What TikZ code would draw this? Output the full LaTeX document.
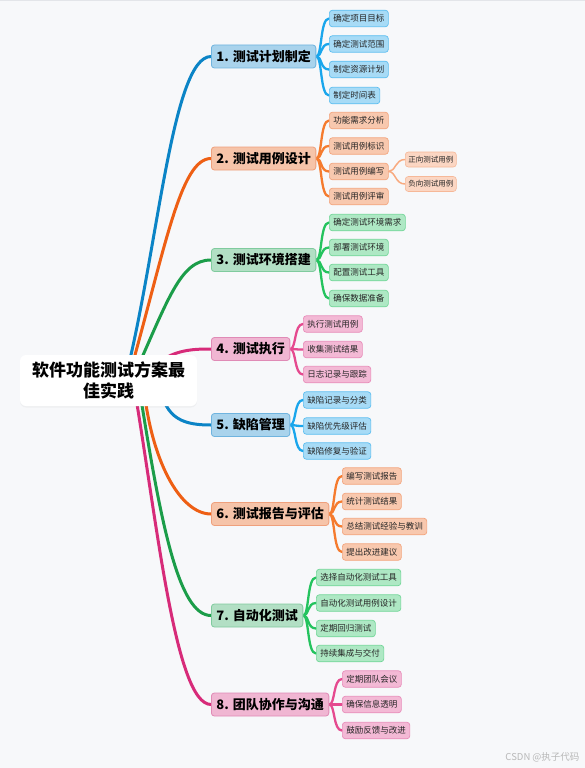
\documentclass[tikz,border=0pt]{standalone}
\usepackage{fontspec}
\setmainfont{Noto Sans CJK SC}
\usepackage{xcolor}
\usetikzlibrary{backgrounds,shadows}
\definecolor{canvas}{HTML}{F7F8FA}
\definecolor{topline}{HTML}{E3E5E9}
\definecolor{blueline}{HTML}{0B84C6}
\definecolor{bluekid}{HTML}{1AA6EC}
\definecolor{bluefill}{HTML}{A9D3EC}
\definecolor{blueedge}{HTML}{6FB4DF}
\definecolor{bluesub}{HTML}{A7DBF6}
\definecolor{bluesubedge}{HTML}{5DBEF0}
\definecolor{orangeline}{HTML}{EE5F14}
\definecolor{orangekid}{HTML}{F57B2E}
\definecolor{orangefill}{HTML}{F6C4A9}
\definecolor{orangeedge}{HTML}{EFA07C}
\definecolor{orangesub}{HTML}{F8C8AE}
\definecolor{orangesubedge}{HTML}{F3A57E}
\definecolor{leaffill}{HTML}{FBD6C3}
\definecolor{leafedge}{HTML}{F6B898}
\definecolor{leafline}{HTML}{F8AA80}
\definecolor{greenline}{HTML}{1B9D49}
\definecolor{greenkid}{HTML}{24C35E}
\definecolor{greenfill}{HTML}{B2DFC4}
\definecolor{greenedge}{HTML}{80CB9E}
\definecolor{greensub}{HTML}{AEE8C4}
\definecolor{greensubedge}{HTML}{72D698}
\definecolor{pinkline}{HTML}{D72B79}
\definecolor{pinkkid}{HTML}{E54A8F}
\definecolor{pinkfill}{HTML}{F0B6D2}
\definecolor{pinkedge}{HTML}{E08BB6}
\definecolor{pinksub}{HTML}{F3B9D5}
\definecolor{pinksubedge}{HTML}{E88DBA}
\tikzset{
  rootbox/.style={fill=white, rounded corners=6pt, align=center, minimum width=177pt,
    minimum height=51pt, inner sep=0pt, font=\bfseries\fontsize{17}{20.5}\selectfont,
    drop shadow={shadow xshift=0pt, shadow yshift=-1.5pt, opacity=0.07}},
  mainbox/.style={anchor=west, draw=#1edge, fill=#1fill, line width=0.8pt, rounded corners=3pt,
    minimum height=23pt, inner xsep=5pt, inner ysep=0pt, font=\bfseries\fontsize{13}{15}\selectfont},
  subbox/.style={anchor=west, draw=#1subedge, fill=#1sub, line width=0.7pt, rounded corners=3pt,
    minimum height=16.5pt, inner xsep=4pt, inner ysep=0pt, text=black!85, font=\fontsize{8.5}{10}\selectfont},
  leafbox/.style={anchor=west, draw=leafedge, fill=leaffill, line width=0.6pt, rounded corners=3pt,
    minimum height=15pt, inner xsep=3pt, inner ysep=0pt, text=black!85, font=\fontsize{7.5}{9}\selectfont},
  mainline/.style={draw=#1line, line width=3pt, line cap=round},
  subline/.style={draw=#1kid, line width=2.3pt, line cap=round,
    to path={.. controls +(6,0) and +(-9,0) .. (\tikztotarget)}},
  leafline/.style={draw=leafline, line width=1.5pt, line cap=round,
    to path={.. controls +(7,0) and +(-10,0) .. (\tikztotarget)}}
}
\begin{document}
\begin{tikzpicture}[x=1pt, y=-1pt]
  \useasboundingbox (0,0) rectangle (585,768);

  \node[rootbox] (root) at (108.5,380.5) {软件功能测试方案最\\佳实践};

  \node[mainbox=blue] (plan) at (211,56.5) {1. 测试计划制定};
  \node[mainbox=orange] (design) at (211,158.5) {2. 测试用例设计};
  \node[mainbox=green] (env) at (211,260) {3. 测试环境搭建};
  \node[mainbox=pink] (exec) at (211,349) {4. 测试执行};
  \node[mainbox=blue] (defect) at (211,425) {5. 缺陷管理};
  \node[mainbox=orange] (report) at (211,514) {6. 测试报告与评估};
  \node[mainbox=green] (auto) at (211,615.5) {7. 自动化测试};
  \node[mainbox=pink] (team) at (211,704.5) {8. 团队协作与沟通};

  \node[subbox=blue] (plan1) at (329,18.5) {确定项目目标};
  \node[subbox=blue] (plan2) at (329,44) {确定测试范围};
  \node[subbox=blue] (plan3) at (329,69.5) {制定资源计划};
  \node[subbox=blue] (plan4) at (329,95.5) {制定时间表};

  \node[subbox=orange] (design1) at (329,120.5) {功能需求分析};
  \node[subbox=orange] (design2) at (329,146) {测试用例标识};
  \node[subbox=orange] (design3) at (329,171.5) {测试用例编写};
  \node[subbox=orange] (design4) at (329,196.5) {测试用例评审};
  \node[leafbox] (case1) at (405,159.5) {正向测试用例};
  \node[leafbox] (case2) at (405,184) {负向测试用例};

  \node[subbox=green] (env1) at (329,222.5) {确定测试环境需求};
  \node[subbox=green] (env2) at (329,247.5) {部署测试环境};
  \node[subbox=green] (env3) at (329,272.5) {配置测试工具};
  \node[subbox=green] (env4) at (329,298.5) {确保数据准备};

  \node[subbox=pink] (exec1) at (303,324) {执行测试用例};
  \node[subbox=pink] (exec2) at (303,349.5) {收集测试结果};
  \node[subbox=pink] (exec3) at (303,374.5) {日志记录与跟踪};

  \node[subbox=blue] (defect1) at (303,400) {缺陷记录与分类};
  \node[subbox=blue] (defect2) at (303,426) {缺陷优先级评估};
  \node[subbox=blue] (defect3) at (303,451) {缺陷修复与验证};

  \node[subbox=orange] (report1) at (342,476) {编写测试报告};
  \node[subbox=orange] (report2) at (342,501.5) {统计测试结果};
  \node[subbox=orange] (report3) at (342,526.5) {总结测试经验与教训};
  \node[subbox=orange] (report4) at (342,552) {提出改进建议};

  \node[subbox=green] (auto1) at (316,577.5) {选择自动化测试工具};
  \node[subbox=green] (auto2) at (316,603) {自动化测试用例设计};
  \node[subbox=green] (auto3) at (316,628.5) {定期回归测试};
  \node[subbox=green] (auto4) at (316,653.5) {持续集成与交付};

  \node[subbox=pink] (team1) at (342,679) {定期团队会议};
  \node[subbox=pink] (team2) at (342,704.5) {确保信息透明};
  \node[subbox=pink] (team3) at (342,730.5) {鼓励反馈与改进};

  \node[anchor=east, text=black!28, font=\fontsize{9.5}{11}\selectfont] (mark) at (583,757) {CSDN @执子代码};

  \begin{scope}[on background layer]
    \fill[canvas] (0,0) rectangle (585,768);
    \fill[topline] (0,0) rectangle (585,1.5);

    \coordinate (s1) at (125,380);
    \coordinate (s2) at (128,380);
    \coordinate (s3) at (132,380);
    \coordinate (s4) at (150,370);
    \coordinate (s5) at (160,385);
    \coordinate (s6) at (143,380);
    \coordinate (s7) at (138,380);
    \coordinate (s8) at (133,380);

    \draw[mainline=blue] (s1) .. controls (158,250) and (172,56.5) .. (plan.west);
    \draw[mainline=orange] (s2) .. controls (165,250) and (180,158.5) .. (design.west);
    \draw[mainline=green] (s3) .. controls (168,300) and (180,260) .. (env.west);
    \draw[mainline=pink] (s4) .. controls (170,350) and (190,349) .. (exec.west);
    \draw[mainline=blue] (s5) .. controls (165,420) and (185,425) .. (defect.west);
    \draw[mainline=orange] (s6) .. controls (150,460) and (180,514) .. (report.west);
    \draw[mainline=green] (s7) .. controls (160,520) and (178,615.5) .. (auto.west);
    \draw[mainline=pink] (s8) .. controls (157,520) and (175,704.5) .. (team.west);

    \draw[subline=blue] (plan.east) to (plan1.west);
    \draw[subline=blue] (plan.east) to (plan2.west);
    \draw[subline=blue] (plan.east) to (plan3.west);
    \draw[subline=blue] (plan.east) to (plan4.west);

    \draw[subline=orange] (design.east) to (design1.west);
    \draw[subline=orange] (design.east) to (design2.west);
    \draw[subline=orange] (design.east) to (design3.west);
    \draw[subline=orange] (design.east) to (design4.west);
    \draw[leafline] (design3.east) to (case1.west);
    \draw[leafline] (design3.east) to (case2.west);

    \draw[subline=green] (env.east) to (env1.west);
    \draw[subline=green] (env.east) to (env2.west);
    \draw[subline=green] (env.east) to (env3.west);
    \draw[subline=green] (env.east) to (env4.west);

    \draw[subline=pink] (exec.east) to (exec1.west);
    \draw[subline=pink] (exec.east) to (exec2.west);
    \draw[subline=pink] (exec.east) to (exec3.west);

    \draw[subline=blue] (defect.east) to (defect1.west);
    \draw[subline=blue] (defect.east) to (defect2.west);
    \draw[subline=blue] (defect.east) to (defect3.west);

    \draw[subline=orange] (report.east) to (report1.west);
    \draw[subline=orange] (report.east) to (report2.west);
    \draw[subline=orange] (report.east) to (report3.west);
    \draw[subline=orange] (report.east) to (report4.west);

    \draw[subline=green] (auto.east) to (auto1.west);
    \draw[subline=green] (auto.east) to (auto2.west);
    \draw[subline=green] (auto.east) to (auto3.west);
    \draw[subline=green] (auto.east) to (auto4.west);

    \draw[subline=pink] (team.east) to (team1.west);
    \draw[subline=pink] (team.east) to (team2.west);
    \draw[subline=pink] (team.east) to (team3.west);
  \end{scope}
\end{tikzpicture}
\end{document}
